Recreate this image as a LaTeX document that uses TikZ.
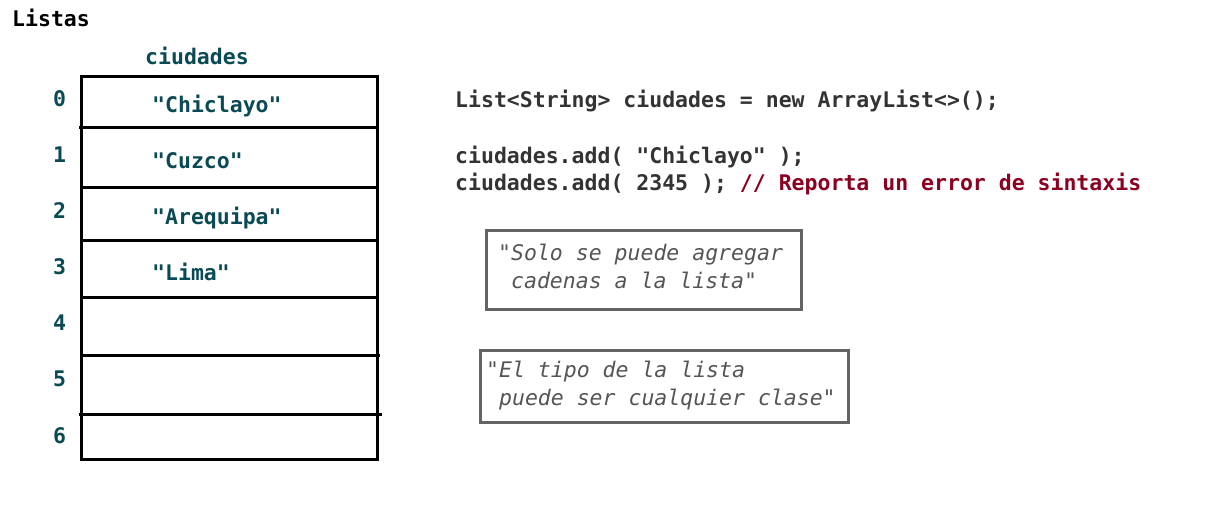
\documentclass[tikz,border=0pt]{standalone}
\usepackage{fontspec}
\setmonofont{DejaVu Sans Mono}
\definecolor{teal2}{HTML}{0A4A55}
\definecolor{codegray}{HTML}{333333}
\definecolor{errred}{HTML}{8B0020}
\definecolor{boxgray}{HTML}{646464}
\definecolor{notegray}{HTML}{555555}
\tikzset{
  mono/.style={font=\fontsize{21.5}{26}\selectfont\ttfamily\bfseries, inner sep=0pt, anchor=base west},
  idx/.style={mono, text=teal2},
  cell/.style={mono, text=teal2},
  code/.style={mono, text=codegray},
  note/.style={font=\fontsize{21.5}{26}\selectfont\ttfamily\itshape, inner sep=0pt, anchor=base west, text=notegray},
  notebox/.style={draw=boxgray, line width=3pt},
  grid/.style={draw=black, line width=3pt}
}
\begin{document}
\begin{tikzpicture}[x=1pt,y=-1pt]
\useasboundingbox (0,0) rectangle (1227,529);
% title
\node[mono, text=black] (title) at (12,27) {Listas};
\node[cell] (hdr) at (145,65) {ciudades};
% table
\draw[grid] (81,77) rectangle (377,459);
\draw[grid] (79,128) -- (377,128);
\draw[grid] (81,188) -- (377,188);
\draw[grid] (81,241) -- (377,241);
\draw[grid] (81,298) -- (377,298);
\draw[grid] (81,356) -- (380,356);
\draw[grid] (79,415) -- (382,415);
% indices
\node[idx] (i0) at (53,107) {0};
\node[idx] (i1) at (53,163) {1};
\node[idx] (i2) at (53,219) {2};
\node[idx] (i3) at (53,275) {3};
\node[idx] (i4) at (53,331) {4};
\node[idx] (i5) at (53,387) {5};
\node[idx] (i6) at (53,443) {6};
% cells
\node[cell] (c0) at (152,113) {"Chiclayo"};
\node[cell] (c1) at (152,169) {"Cuzco"};
\node[cell] (c2) at (152,225) {"Arequipa"};
\node[cell] (c3) at (152,281) {"Lima"};
% code
\node[code] (l1) at (455,108) {List<String> ciudades = new ArrayList<>();};
\node[code] (l2) at (455,164) {ciudades.add( "Chiclayo" );};
\node[code] (l3) at (455,191) {ciudades.add( 2345 ); \textcolor{errred}{// Reporta un error de sintaxis}};
% notes
\draw[notebox] (486,231) rectangle (801,310);
\node[note] (n1a) at (498,261) {"Solo se puede agregar};
\node[note] (n1b) at (498,289) {\ cadenas a la lista"};
\draw[notebox] (480,351) rectangle (848,422);
\node[note] (n2a) at (486,378) {"El tipo de la lista};
\node[note] (n2b) at (486,406) {\ puede ser cualquier clase"};
\end{tikzpicture}
\end{document}
